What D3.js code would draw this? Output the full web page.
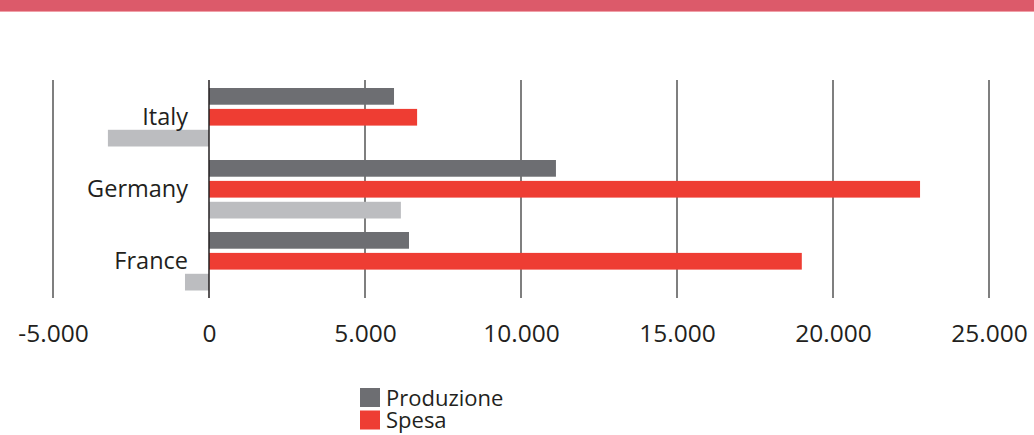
<!DOCTYPE html>
<html><head><meta charset="utf-8">
<script src="https://cdn.jsdelivr.net/npm/d3@7"></script>
<style>body{margin:0;background:#fff}svg{display:block}text{font-family:"Open Sans",sans-serif;fill:#231f20}</style>
</head><body><svg id="c" width="1034" height="435"></svg>
<script>
const categories = ["Italy", "Germany", "France"];
const seriesNames = ["Produzione", "Spesa", "Altro"];
const produzione = [5930, 11120, 6410];
const spesa = [6670, 22790, 19000];
const altro = [-3240, 6150, -770];
const ticks = [-5000, 0, 5000, 10000, 15000, 20000, 25000];
const tickLabels = ["-5.000", "0", "5.000", "10.000", "15.000", "20.000", "25.000"];
const legendNames = ["Produzione", "Spesa"];

const colors = {Produzione: "#6d6e72", Spesa: "#ee3d33", Altro: "#bcbdc0"};
const values = {Produzione: produzione, Spesa: spesa, Altro: altro};

const svg = d3.select("#c");
svg.append("rect").attr("x", 0).attr("y", 0).attr("width", 1034).attr("height", 11).attr("fill", "#dc5a6a");
svg.append("rect").attr("x", 0).attr("y", 11).attr("width", 1034).attr("height", 1).attr("fill", "#f0a0a8");

const x = d3.scaleLinear().domain([-5000, 25000]).range([53, 989]);
const y = d3.scaleBand().domain(categories).range([81, 297]).padding(0);
const y1 = d3.scaleBand().domain(seriesNames).range([7, 65.5]).paddingInner(0.2).paddingOuter(0);

// gridlines
svg.append("g").selectAll("line").data(ticks.filter(t => t !== 0)).join("line")
  .attr("x1", d => x(d)).attr("x2", d => x(d)).attr("y1", 80).attr("y2", 298)
  .attr("stroke", "#555").attr("stroke-width", 1.5);

// bars
const g = svg.append("g");
categories.forEach((c, i) => {
  seriesNames.forEach(s => {
    const v = values[s][i];
    g.append("rect")
      .attr("x", x(Math.min(0, v)))
      .attr("width", Math.abs(x(v) - x(0)))
      .attr("y", y(c) + y1(s))
      .attr("height", y1.bandwidth())
      .attr("fill", colors[s]);
  });
});

// zero line
svg.append("line").attr("x1", x(0)).attr("x2", x(0)).attr("y1", 80).attr("y2", 298)
  .attr("stroke", "#231f20").attr("stroke-width", 1.5);

// category labels
svg.append("g").selectAll("text").data(categories).join("text")
  .attr("x", 188).attr("y", d => y(d) + y.bandwidth() / 2)
  .attr("dy", "0.35em").attr("text-anchor", "end").attr("font-size", 23.5)
  .text(d => d);

// x axis labels
const ax = d3.axisBottom(x).tickValues(ticks).tickSize(0).tickFormat((d, i) => tickLabels[i]);
const axg = svg.append("g").attr("transform", "translate(0,322)").call(ax);
axg.select(".domain").remove();
axg.selectAll("text").attr("font-size", 24.5).attr("font-family", '"Open Sans",sans-serif').attr("fill", "#231f20").attr("dy", "0.71em");

// legend
const lg = svg.append("g").selectAll("g").data(legendNames).join("g")
  .attr("transform", (d, i) => `translate(360,${388 + i * 22.5})`);
lg.append("rect").attr("width", 20).attr("height", 19).attr("fill", d => colors[d]);
lg.append("text").attr("x", 26).attr("y", 10).attr("dy", "0.35em").attr("font-size", 22).text(d => d);
</script></body></html>
